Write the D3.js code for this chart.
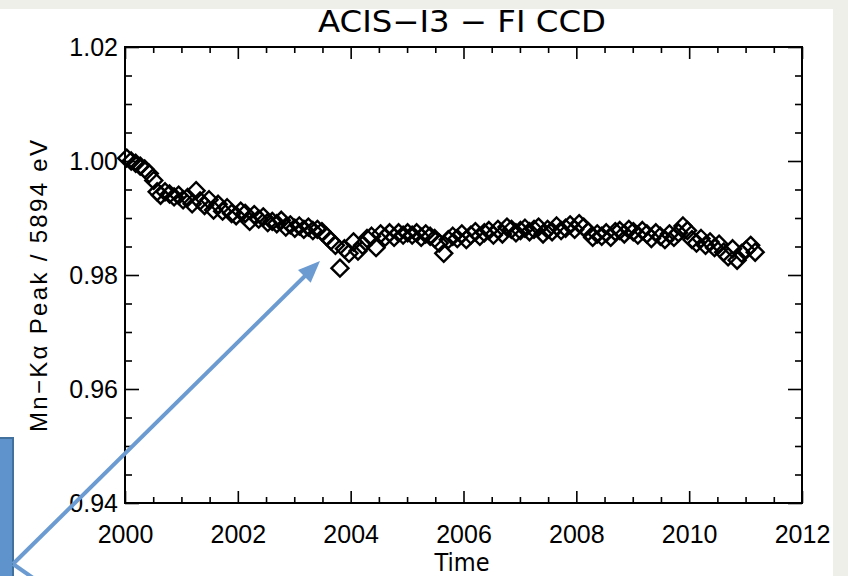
<!DOCTYPE html>
<html><head><meta charset="utf-8">
<script src="https://cdn.jsdelivr.net/npm/d3@7"></script>
<style>
html,body{margin:0;padding:0;background:#efefe9;}
svg{display:block;}
text{font-family:"Liberation Sans",Arial,sans-serif;fill:#000;}
</style></head><body>
<svg id="c" width="848" height="576"></svg>
<script>
const title = "ACIS\u2212I3 \u2212 FI CCD";
const xLabel = "Time";
const yLabel = "Mn\u2212K\u03b1 Peak / 5894 eV";
const xTicks = [2000, 2002, 2004, 2006, 2008, 2010, 2012];
const yTicks = [0.94, 0.96, 0.98, 1.00, 1.02];
const xMinor = [2000.5,2001,2001.5,2002.5,2003,2003.5,2004.5,2005,2005.5,2006.5,2007,2007.5,2008.5,2009,2009.5,2010.5,2011,2011.5];
const yMinor = [0.945,0.95,0.955,0.965,0.97,0.975,0.985,0.99,0.995,1.005,1.01,1.015];

const times = [
2000.03,2000.11,2000.19,2000.27,2000.35,2000.43,2000.51,2000.57,2000.63,2000.71,2000.79,2000.87,2000.95,
2001.03,2001.11,2001.19,2001.26,2001.33,2001.41,2001.49,2001.57,2001.65,2001.73,2001.81,2001.89,2001.97,
2002.05,2002.13,2002.21,2002.29,2002.37,2002.45,2002.53,2002.61,2002.69,2002.77,2002.85,2002.93,
2003.01,2003.09,2003.17,2003.25,2003.33,2003.41,2003.49,2003.57,2003.65,2003.73,2003.81,2003.89,2003.97,
2004.05,2004.13,2004.21,2004.29,2004.37,2004.45,2004.53,2004.61,2004.69,2004.77,2004.85,2004.93,
2005.01,2005.09,2005.17,2005.25,2005.33,2005.41,2005.49,2005.57,2005.65,2005.73,2005.81,2005.89,2005.97,
2006.05,2006.13,2006.21,2006.29,2006.37,2006.45,2006.53,2006.61,2006.69,2006.77,2006.85,2006.93,
2007.01,2007.09,2007.17,2007.25,2007.33,2007.41,2007.49,2007.57,2007.65,2007.73,2007.81,2007.89,2007.97,
2008.05,2008.13,2008.21,2008.29,2008.37,2008.45,2008.53,2008.61,2008.69,2008.77,2008.85,2008.93,
2009.01,2009.09,2009.17,2009.25,2009.33,2009.41,2009.49,2009.57,2009.65,2009.73,2009.81,2009.89,2009.97,
2010.05,2010.13,2010.21,2010.29,2010.37,2010.45,2010.53,2010.61,2010.69,2010.77,2010.85,2010.93,
2011.01,2011.09,2011.17];
const peaks = [
1.0005,1.0000,0.9996,0.9991,0.9986,0.9978,0.9966,0.9946,0.9940,0.9946,0.9942,0.9937,0.9940,
0.9932,0.9936,0.9925,0.9948,0.9930,0.9922,0.9932,0.9914,0.9924,0.9912,0.9918,0.9908,0.9904,
0.9912,0.9908,0.9894,0.9906,0.9898,0.9902,0.9892,0.9894,0.9890,0.9896,0.9884,0.9888,
0.9882,0.9886,0.9880,0.9884,0.9878,0.9880,0.9876,0.9868,0.9860,0.9852,0.9812,0.9846,0.9838,
0.9858,0.9842,0.9852,0.9864,0.9868,0.9848,0.9872,0.9866,0.9874,0.9866,0.9874,0.9870,
0.9874,0.9870,0.9874,0.9866,0.9872,0.9868,0.9864,0.9856,0.9838,0.9862,0.9868,0.9864,0.9872,
0.9862,0.9870,0.9876,0.9868,0.9874,0.9878,0.9870,0.9880,0.9872,0.9884,0.9880,0.9874,
0.9878,0.9882,0.9876,0.9880,0.9884,0.9872,0.9880,0.9876,0.9886,0.9878,0.9882,0.9888,0.9880,
0.9890,0.9884,0.9876,0.9866,0.9872,0.9868,0.9874,0.9866,0.9876,0.9878,0.9872,0.9880,
0.9876,0.9870,0.9878,0.9872,0.9864,0.9874,0.9868,0.9862,0.9872,0.9866,0.9874,0.9886,0.9878,
0.9862,0.9856,0.9864,0.9852,0.9858,0.9848,0.9854,0.9840,0.9832,0.9846,0.9826,0.9838,
0.9844,0.9852,0.9840];

const svg = d3.select("#c");
svg.append("rect").attr("x",0).attr("y",9).attr("width",833).attr("height",567).attr("fill","#fff");

const L=125,R=802,T=47,B=503;
const x = d3.scaleLinear().domain([2000,2012]).range([L,R]);
const y = d3.scaleLinear().domain([0.94,1.02]).range([B,T]);

function styleAxis(g){
  g.select(".domain").remove();
  g.selectAll(".tick line").attr("stroke","#000").attr("stroke-width",1.6);
  g.selectAll("text").style("font-size","25px").attr("fill","#000");
}
svg.append("g").attr("transform",`translate(0,${B})`)
  .call(d3.axisBottom(x).tickValues(xTicks).tickFormat(d3.format("d")).tickSize(-12).tickPadding(22)).call(styleAxis);
svg.append("g").attr("transform",`translate(0,${B})`)
  .call(d3.axisBottom(x).tickValues(xMinor).tickFormat("").tickSize(-6)).call(styleAxis);
svg.append("g").attr("transform",`translate(0,${T})`)
  .call(d3.axisTop(x).tickValues(xTicks).tickFormat("").tickSize(-12)).call(styleAxis);
svg.append("g").attr("transform",`translate(0,${T})`)
  .call(d3.axisTop(x).tickValues(xMinor).tickFormat("").tickSize(-6)).call(styleAxis);
svg.append("g").attr("transform",`translate(${L},0)`)
  .call(d3.axisLeft(y).tickValues(yTicks).tickFormat(d3.format(".2f")).tickSize(-14).tickPadding(7)).call(styleAxis);
svg.append("g").attr("transform",`translate(${L},0)`)
  .call(d3.axisLeft(y).tickValues(yMinor).tickFormat("").tickSize(-7)).call(styleAxis);
svg.append("g").attr("transform",`translate(${R},0)`)
  .call(d3.axisRight(y).tickValues(yTicks).tickFormat("").tickSize(-14)).call(styleAxis);
svg.append("g").attr("transform",`translate(${R},0)`)
  .call(d3.axisRight(y).tickValues(yMinor).tickFormat("").tickSize(-7)).call(styleAxis);

svg.append("rect").attr("x",L).attr("y",T).attr("width",R-L).attr("height",B-T)
  .attr("fill","none").attr("stroke","#000").attr("stroke-width",2);

const pts = times.map((t,i)=>({t, v: peaks[i]}));
const s = 8.5;
svg.append("g").selectAll("path").data(pts).join("path")
  .attr("d", d=>{const cx=x(d.t), cy=y(d.v); return `M${cx},${cy-s}L${cx+s},${cy}L${cx},${cy+s}L${cx-s},${cy}Z`;})
  .attr("fill","none").attr("stroke","#000").attr("stroke-width",2.4);

svg.append("text").attr("x",462).attr("y",32).attr("text-anchor","middle")
  .style("font-family","'Liberation Sans Narrow','DejaVu Sans Condensed',sans-serif")
  .style("font-size","30px").attr("textLength",288).attr("lengthAdjust","spacingAndGlyphs").text(title);
svg.append("text").attr("x",462).attr("y",571).attr("text-anchor","middle")
  .style("font-family","'Liberation Sans Narrow','DejaVu Sans Condensed',sans-serif")
  .style("font-size","25px").text(xLabel);
svg.append("text").attr("transform","translate(47,286) rotate(-90)").attr("text-anchor","middle")
  .style("font-size","24px").attr("textLength",292).attr("lengthAdjust","spacing").text(yLabel);

svg.append("rect").attr("x",-4).attr("y",438).attr("width",17).attr("height",150)
  .attr("fill","#5f93cc").attr("stroke","#41719c").attr("stroke-width",2);
const ac="#6b9bd1";
svg.append("line").attr("x1",13).attr("y1",564).attr("x2",310).attr("y2",271)
  .attr("stroke",ac).attr("stroke-width",4);
svg.append("line").attr("x1",13).attr("y1",564).attr("x2",36).attr("y2",580)
  .attr("stroke",ac).attr("stroke-width",4);
(function(){
  const tx=320, ty=261, ang=Math.atan2(ty-564, tx-13);
  const len=22, w=9;
  const bx=tx-len*Math.cos(ang), by=ty-len*Math.sin(ang);
  const px=-Math.sin(ang)*w, py=Math.cos(ang)*w;
  svg.append("path").attr("d",`M${tx},${ty}L${bx+px},${by+py}L${bx-px},${by-py}Z`).attr("fill",ac);
})();
</script>
</body></html>
